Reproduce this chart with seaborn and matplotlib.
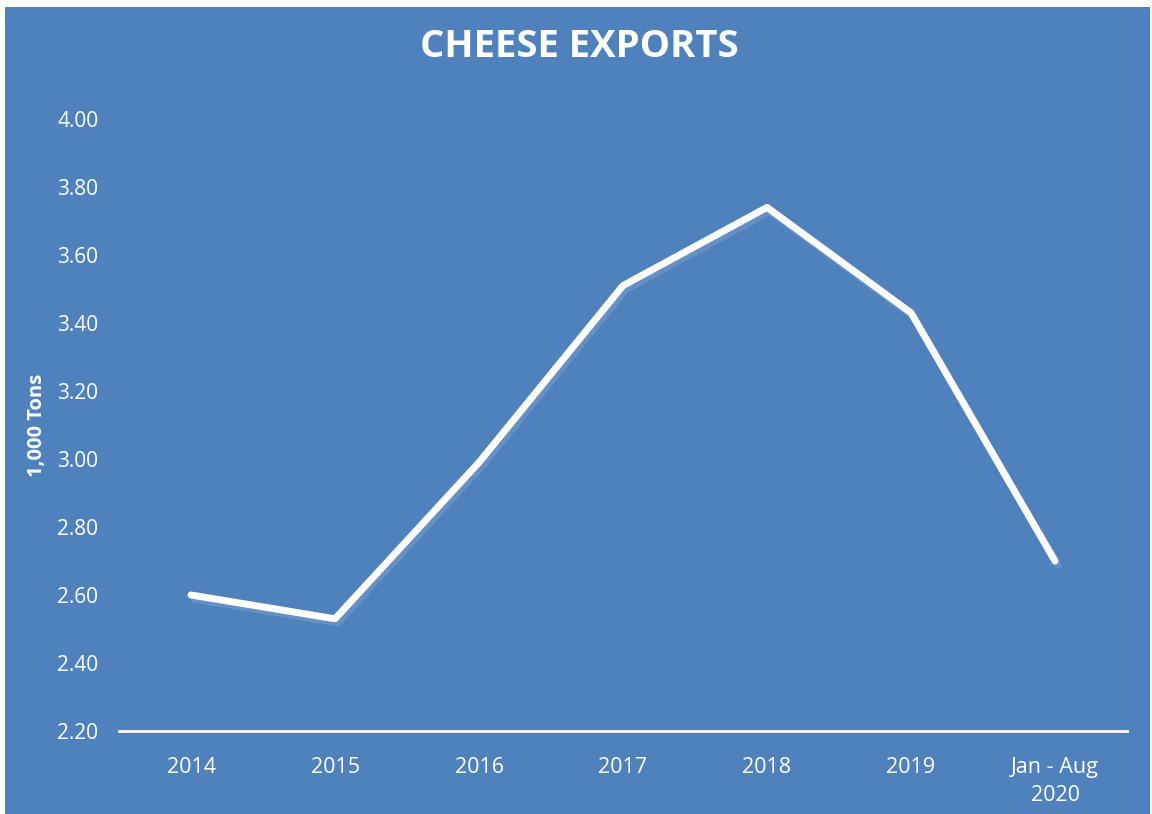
import matplotlib
matplotlib.use("Agg")
import matplotlib.pyplot as plt
import matplotlib.patheffects as pe
from matplotlib.patches import Rectangle
import seaborn as sns
import pandas as pd

# Cheese exports, thousand tons
periods = ["2014", "2015", "2016", "2017", "2018", "2019", "Jan - Aug\n2020"]
tons = [2.60, 2.53, 2.99, 3.51, 3.74, 3.43, 2.70]
y_ticks = [2.20, 2.40, 2.60, 2.80, 3.00, 3.20, 3.40, 3.60, 3.80, 4.00]

BG = "#4F81BD"
FG = "white"

sns.set_theme(style="white")
plt.rcParams["font.family"] = ["Open Sans", "DejaVu Sans"]

df = pd.DataFrame({"period": periods, "tons": tons})

fig = plt.figure(figsize=(11.52, 8.14), dpi=100, facecolor="white")
# blue panel with a thin white margin, kept behind the axes
panel = Rectangle((5 / 1152, 0), 1145 / 1152, 1 - 7 / 814,
                  transform=fig.transFigure, facecolor=BG,
                  edgecolor="none", zorder=-10)
fig.add_artist(panel)

ax = fig.add_axes([119 / 1152, 1 - 731 / 814, (1127 - 119) / 1152, (731 - 119) / 814])
ax.set_zorder(1)
ax.patch.set_alpha(0)

sns.lineplot(data=df, x="period", y="tons", sort=False, color=FG,
             linewidth=5, ax=ax, solid_capstyle="round", solid_joinstyle="round",
             path_effects=[pe.SimpleLineShadow(offset=(2, -3), shadow_color="white",
                                               alpha=0.12),
                           pe.Normal()])

ax.set_xlim(-0.5, len(periods) - 0.5)
ax.set_ylim(y_ticks[0], y_ticks[-1])
ax.set_yticks(y_ticks)
ax.set_yticklabels([f"{v:.2f}" for v in y_ticks])

for s in ["top", "right", "left"]:
    ax.spines[s].set_visible(False)
ax.spines["bottom"].set_color(FG)
ax.spines["bottom"].set_linewidth(2)

ax.tick_params(axis="y", length=0, pad=15, labelcolor=FG, labelsize=15)
ax.tick_params(axis="x", length=0, pad=19, labelcolor=FG, labelsize=15.5)
for lbl in ax.get_xticklabels():
    lbl.set_linespacing(1.4)

ax.set_xlabel("")
ax.set_ylabel("1,000 Tons", color=FG, fontsize=14.5, fontweight="bold", labelpad=7)
ax.grid(False)

fig.text(579 / 1152, 1 - 47 / 814, "CHEESE EXPORTS", ha="center", va="center",
         color=FG, fontsize=27.5, fontweight="bold")

fig.savefig("out.png", dpi=100, facecolor="white")
